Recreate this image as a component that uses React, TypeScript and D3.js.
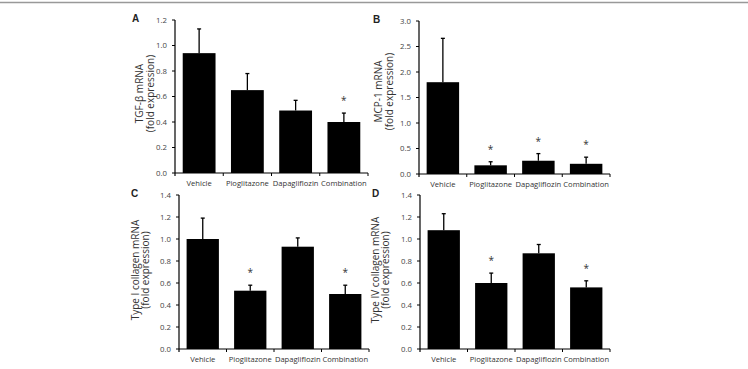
import * as d3 from 'd3'

const categories = ['Vehicle', 'Pioglitazone', 'Dapagliflozin', 'Combination']

const tgfMean = [0.94, 0.65, 0.49, 0.40]
const tgfSd = [0.19, 0.13, 0.08, 0.07]
const tgfSig = [false, false, false, true]

const mcpMean = [1.80, 0.17, 0.26, 0.20]
const mcpSd = [0.86, 0.07, 0.14, 0.13]
const mcpSig = [false, true, true, true]

const col1Mean = [1.00, 0.53, 0.93, 0.50]
const col1Sd = [0.19, 0.05, 0.08, 0.08]
const col1Sig = [false, true, false, true]

const col4Mean = [1.08, 0.60, 0.87, 0.56]
const col4Sd = [0.15, 0.09, 0.08, 0.06]
const col4Sig = [false, true, false, true]

// layout per panel: axis box, offsets of the two title lines and the panel letter
const panels = [
  { letter: 'A', title: 'TGF-β mRNA', mean: tgfMean, sd: tgfSd, sig: tgfSig, max: 1.2, step: 0.2,
    x0: 175, x1: 368, y0: 20, y1: 173, t1: -36, t2: -25, lx: -43, ty: -3 },
  { letter: 'B', title: 'MCP-1 mRNA', mean: mcpMean, sd: mcpSd, sig: mcpSig, max: 3.0, step: 0.5,
    x0: 419, x1: 610, y0: 21, y1: 174, t1: -41, t2: -30, lx: -46, ty: -6 },
  { letter: 'C', title: 'Type I collagen mRNA', mean: col1Mean, sd: col1Sd, sig: col1Sig, max: 1.4, step: 0.2,
    x0: 179, x1: 369, y0: 195, y1: 349, t1: -44, t2: -34, lx: -48, ty: -2 },
  { letter: 'D', title: 'Type IV collagen mRNA', mean: col4Mean, sd: col4Sd, sig: col4Sig, max: 1.4, step: 0.2,
    x0: 420, x1: 610, y0: 195, y1: 349, t1: -45, t2: -35, lx: -48, ty: -2 },
]

const font = '"Open Sans", "DejaVu Sans", sans-serif'

function Panel({ p }: { p: typeof panels[number] }) {
  const x = d3.scaleBand<string>().domain(categories).range([p.x0, p.x1]).paddingInner(0.32).paddingOuter(0.16)
  const y = d3.scaleLinear().domain([0, p.max]).range([p.y1, p.y0])
  const ticks = d3.range(0, p.max + p.step / 2, p.step)
  const half = (x.step() * 0.32) / 2
  const midY = (p.y0 + p.y1) / 2 + p.ty
  return (
    <g>
      <text x={p.x0 + p.lx} y={p.y0 + 2} fontSize={10} fontWeight={700} fill="#222" fontFamily="Arial, sans-serif">{p.letter}</text>
      <g transform={`translate(${p.x0 + p.t1},${midY}) rotate(-90)`}>
        <text textAnchor="middle" dy="0.35em" fontSize={10} fill="#333" fontFamily={font}>{p.title}</text>
      </g>
      <g transform={`translate(${p.x0 + p.t2},${midY}) rotate(-90)`}>
        <text textAnchor="middle" dy="0.35em" fontSize={10} fill="#333" fontFamily={font}>(fold expression)</text>
      </g>
      {ticks.map(t => (
        <g key={t}>
          <line x1={p.x0 - 3} x2={p.x0} y1={y(t)} y2={y(t)} stroke="#000" strokeWidth={1} />
          <text x={p.x0 - 8} y={y(t)} dy="0.35em" textAnchor="end" fontSize={7.8} fill="#444" fontFamily={font}>{t.toFixed(1)}</text>
        </g>
      ))}
      {categories.map((c, i) => {
        const bx = x(c)!
        const top = p.mean[i] + p.sd[i]
        const cx = bx + x.bandwidth() / 2
        return (
          <g key={c}>
            <rect x={bx} y={y(p.mean[i])} width={x.bandwidth()} height={p.y1 - y(p.mean[i])} fill="#000" />
            <line x1={cx} x2={cx} y1={y(p.mean[i])} y2={y(top)} stroke="#000" strokeWidth={1.3} />
            <line x1={cx - 2} x2={cx + 2} y1={y(top)} y2={y(top)} stroke="#000" strokeWidth={1.3} />
            {p.sig[i] && (
              <text x={cx} y={y(top) - 9} textAnchor="middle" fontSize={10} fill="#333" fontFamily={font}>*</text>
            )}
            <line x1={bx + x.bandwidth() + half} x2={bx + x.bandwidth() + half} y1={p.y1} y2={p.y1 + 3} stroke="#000" strokeWidth={1} />
            <text x={cx} y={p.y1 + 13} textAnchor="middle" fontSize={7.6} fill="#333" fontFamily={font}>{c}</text>
          </g>
        )
      })}
      <line x1={p.x0} x2={p.x0} y1={p.y0} y2={p.y1 + 3} stroke="#000" strokeWidth={1.2} />
      <line x1={p.x0} x2={p.x1} y1={p.y1} y2={p.y1} stroke="#000" strokeWidth={1.2} />
    </g>
  )
}

export default function App() {
  return (
    <svg width={748} height={369} style={{ position: 'absolute', left: 0, top: 0, background: '#fff' }}>
      <line x1={0} x2={748} y1={2.5} y2={2.5} stroke="#999" strokeWidth={1.5} />
      {panels.map(p => <Panel key={p.letter} p={p} />)}
    </svg>
  )
}
